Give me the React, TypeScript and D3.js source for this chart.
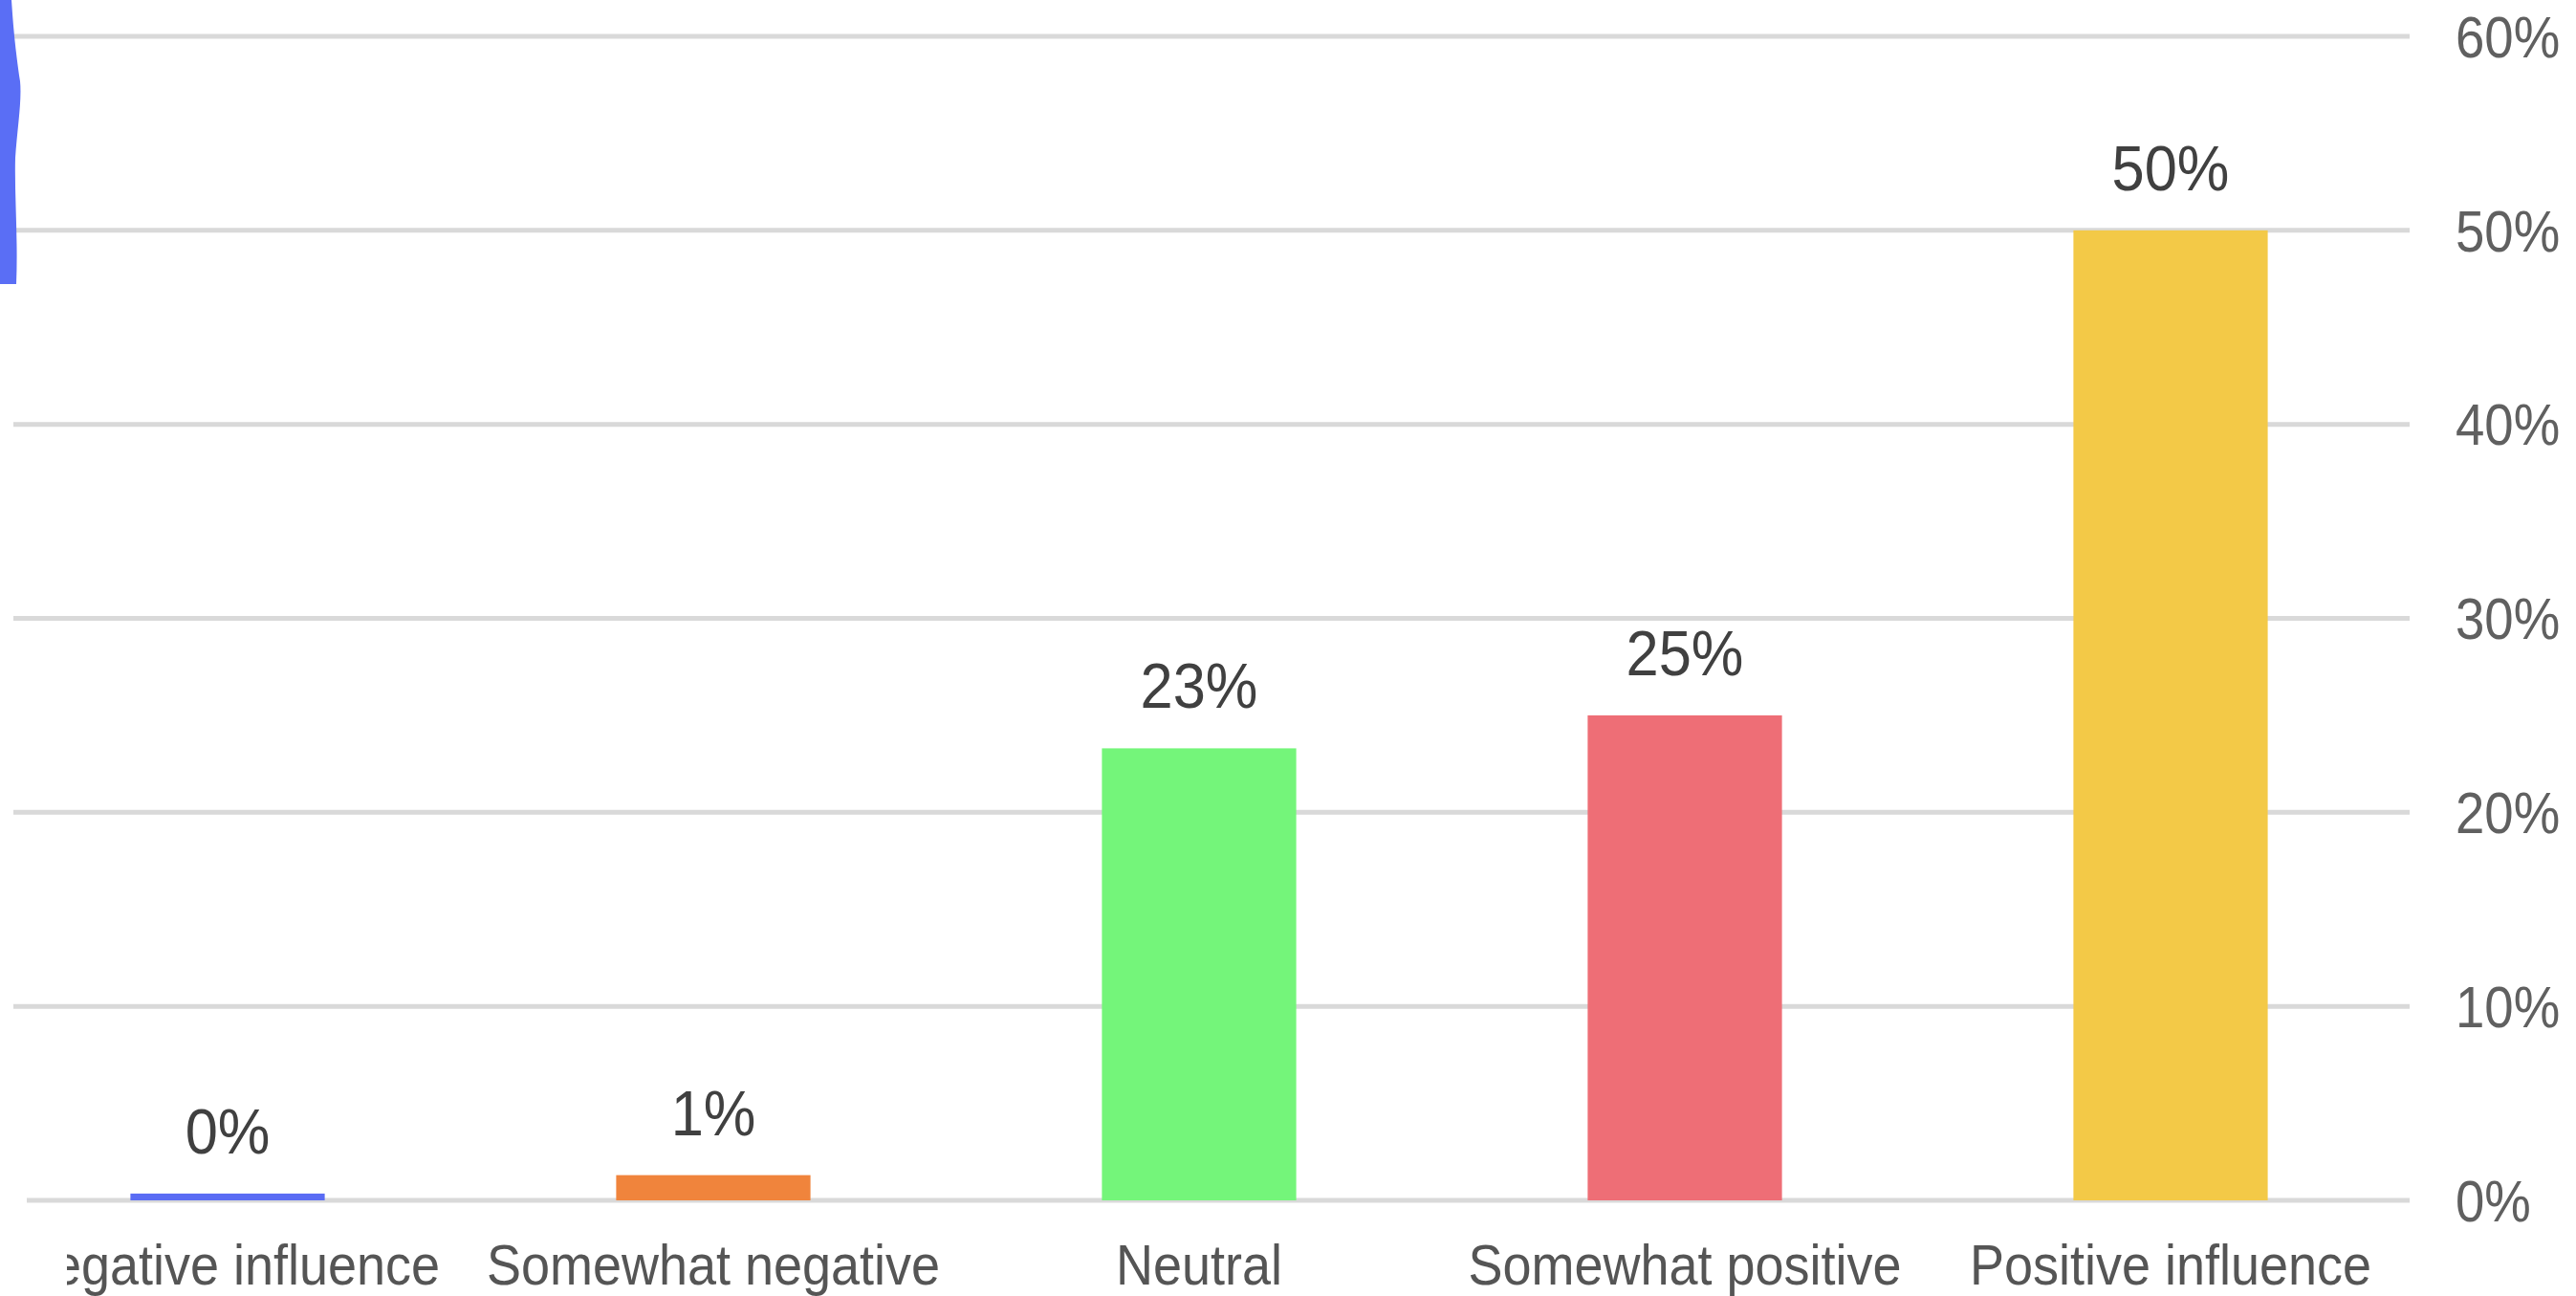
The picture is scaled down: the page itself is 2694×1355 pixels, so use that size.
import React, { useEffect, useRef } from 'react';
import * as d3 from 'd3';

// chart data
const categories = ['Negative influence', 'Somewhat negative', 'Neutral', 'Somewhat positive', 'Positive influence'];
const shares = [0.0035, 0.013, 0.233, 0.25, 0.5];
const barColors = ['#5a6cf4', '#f0843c', '#74f57a', '#ee6e76', '#f3c947'];
const yTicks = [0, 0.1, 0.2, 0.3, 0.4, 0.5, 0.6];

const W = 2694;
const H = 1355;
const FONT = '"Liberation Sans", Arial, sans-serif';

export default function App() {
  const ref = useRef<SVGSVGElement>(null);

  useEffect(() => {
    const svg = d3.select(ref.current);
    svg.selectAll('*').remove();

    const x = d3.scaleBand<string>()
      .domain(categories)
      .range([-16, 2524])
      .paddingInner(0.6)
      .paddingOuter(0.3);
    const y = d3.scaleLinear().domain([0, 0.6]).range([1255, 38]);
    const pct = d3.format('.0%');

    // clip for the cropped first label
    svg.append('defs').append('clipPath').attr('id', 'crop')
      .append('rect').attr('x', 70).attr('y', 0).attr('width', W).attr('height', H);

    // gridlines
    svg.append('g').selectAll('line').data(yTicks).join('line')
      .attr('x1', d => (d === 0 ? 28 : 14))
      .attr('x2', 2520)
      .attr('y1', d => y(d))
      .attr('y2', d => y(d))
      .attr('stroke', '#d9d9d9')
      .attr('stroke-width', 5);

    // y labels on the right
    svg.append('g').selectAll('text').data(yTicks).join('text')
      .attr('transform', d => `translate(2568,${y(d)}) scale(0.88,1)`)
      .attr('dominant-baseline', 'central')
      .attr('font-family', FONT)
      .attr('font-size', 62)
      .attr('fill', '#606060')
      .text(d => pct(d));

    // bars
    svg.append('g').selectAll('rect').data(shares).join('rect')
      .attr('x', (d, i) => x(categories[i])!)
      .attr('width', x.bandwidth())
      .attr('y', d => y(d))
      .attr('height', d => y(0) - y(d))
      .attr('fill', (d, i) => barColors[i]);

    // value labels
    svg.append('g').selectAll('text').data(shares).join('text')
      .attr('transform', (d, i) => `translate(${x(categories[i])! + x.bandwidth() / 2},${y(d) - 42}) scale(0.93,1)`)
      .attr('text-anchor', 'middle')
      .attr('font-family', FONT)
      .attr('font-size', 66)
      .attr('fill', '#404040')
      .text(d => pct(d));

    // category labels
    svg.append('g').attr('clip-path', 'url(#crop)')
      .selectAll('text').data(categories).join('text')
      .attr('transform', d => `translate(${x(d)! + x.bandwidth() / 2},1343) scale(0.9,1)`)
      .attr('text-anchor', 'middle')
      .attr('font-family', FONT)
      .attr('font-size', 60)
      .attr('fill', '#555')
      .text(d => d);

    // blue marker stroke on the left edge
    svg.append('path')
      .attr('d', 'M0,0 L12,0 C14,30 16,50 21,85 C23,105 18,135 16,165 C15,205 19,250 17,297 L0,297 Z')
      .attr('fill', '#5a6ef5');
  }, []);

  return (
    <svg ref={ref} width={W} height={H}
      style={{ position: 'absolute', left: 0, top: 0, background: '#fff' }} />
  );
}
